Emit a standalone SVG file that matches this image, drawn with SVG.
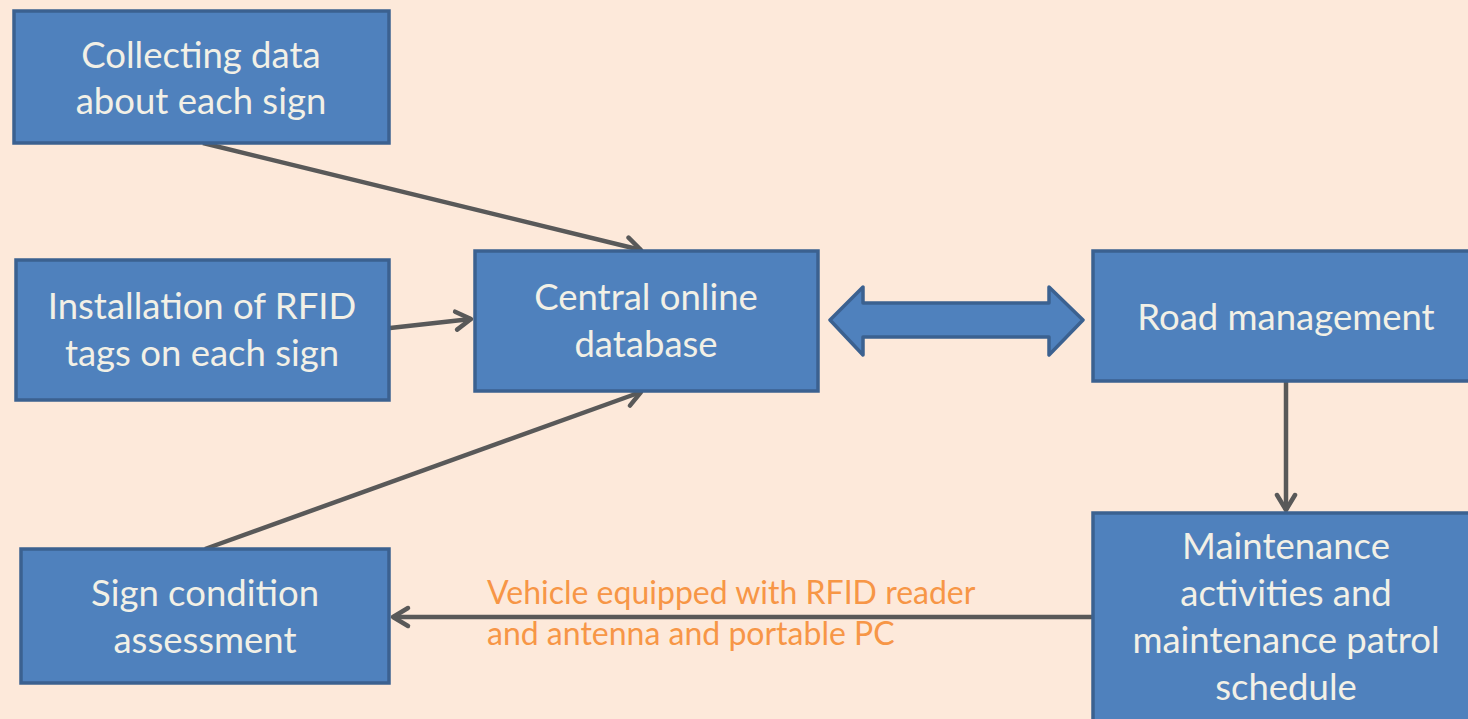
<svg xmlns="http://www.w3.org/2000/svg" width="1468" height="719" viewBox="0 0 1468 719">
<style>
.box{fill:#4f81bd;stroke:#3b6190;stroke-width:3.5}
.t{font-family:Lato,"Open Sans",sans-serif;font-size:36.5px;fill:#f2f0e6;text-anchor:middle}
.c{stroke:#595959;stroke-width:4.5;fill:none;marker-end:url(#a)}
.lbl{font-family:Lato,"Open Sans",sans-serif;font-size:32px;fill:#f79646}
</style>
<defs>
<marker id="a" markerWidth="8" markerHeight="10" refX="7" refY="5" orient="auto" markerUnits="userSpaceOnUse" viewBox="0 0 8 10" overflow="visible">
<path d="M-8,-4 L7,5 L-8,14" fill="none" stroke="#595959" stroke-width="4.5" stroke-linecap="round" stroke-linejoin="round"/>
</marker>
</defs>
<rect width="1468" height="719" fill="#fde9da"/>
<g id="connectors">
<line class="c" x1="203" y1="143" x2="641" y2="250"/>
<line class="c" x1="390" y1="328" x2="471" y2="319"/>
<line class="c" x1="205" y1="549" x2="641" y2="392"/>
<line class="c" x1="1286" y1="382" x2="1286" y2="510"/>
<line class="c" x1="1092" y1="617" x2="393" y2="617"/>
<text class="lbl" x="487" y="604">Vehicle equipped with RFID reader</text>
<text class="lbl" x="487" y="645">and antenna and portable PC</text>
</g>
<g id="n1"><rect class="box" x="14" y="11" width="375" height="132"/><text class="t" x="201" y="68">Collecting data</text><text class="t" x="201" y="114">about each sign</text></g>
<g id="n2"><rect class="box" x="16" y="260" width="373" height="140"/><text class="t" x="202" y="319">Installation of RFID</text><text class="t" x="202" y="366">tags on each sign</text></g>
<g id="n3"><rect class="box" x="475" y="251" width="343" height="140"/><text class="t" x="646" y="310">Central online</text><text class="t" x="646" y="357">database</text></g>
<g id="dbl"><path class="box" d="M830,320 L863,287 L863,303 L1049,303 L1049,287 L1083,320 L1049,355 L1049,337 L863,337 L863,355 Z" stroke-linejoin="round"/></g>
<g id="n4"><rect class="box" x="1093" y="251" width="380" height="130"/><text class="t" x="1286" y="330">Road management</text></g>
<g id="n5"><rect class="box" x="1093" y="513" width="380" height="210"/><text class="t" x="1286" y="559">Maintenance</text><text class="t" x="1286" y="606">activities and</text><text class="t" x="1286" y="653">maintenance patrol</text><text class="t" x="1286" y="700">schedule</text></g>
<g id="n6"><rect class="box" x="21" y="549" width="368" height="134"/><text class="t" x="205" y="606">Sign condition</text><text class="t" x="205" y="653">assessment</text></g>
</svg>
